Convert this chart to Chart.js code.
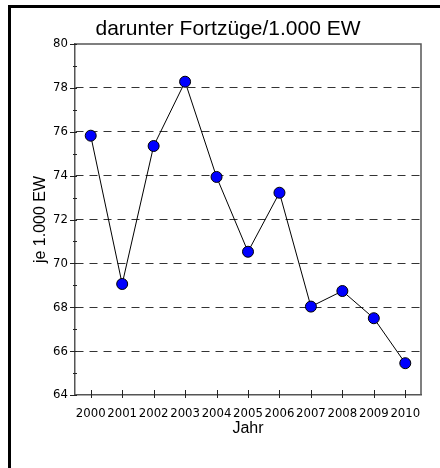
<!DOCTYPE html>
<html>
<head>
<meta charset="utf-8">
<script src="https://cdn.jsdelivr.net/npm/chart.js@4"></script>
<style>
  html, body { margin: 0; padding: 0; background: #fff; }
  canvas { display: block; }
</style>
</head>
<body>
<canvas id="fortzuegeChart" width="440" height="468"></canvas>
<script>
const jahre = ['2000', '2001', '2002', '2003', '2004', '2005', '2006', '2007', '2008', '2009', '2010'];
const fortzuege = [75.82, 69.06, 75.35, 78.28, 73.94, 70.53, 73.22, 68.03, 68.74, 67.5, 65.45];
const yTicks = [64, 66, 68, 70, 72, 74, 76, 78, 80];
const yMinorTicks = [65, 67, 69, 71, 73, 75, 77, 79];

const titel = 'darunter Fortzüge/1.000 EW';
const achsenFarbe = '#555';
const schmal = '"DejaVu Sans Condensed", "Liberation Sans Narrow", "Arial Narrow", sans-serif';

// Rahmen, Titel und Tick-Striche
const rahmenPlugin = {
  id: 'rahmen',
  afterDraw: (chart) => {
    const ctx = chart.ctx;
    const area = chart.chartArea;
    const xScale = chart.scales.x;
    const yScale = chart.scales.y;

    ctx.save();

    // äusserer schwarzer Rand (oben + links)
    ctx.fillStyle = '#000';
    ctx.fillRect(8, 5, 432, 3);
    ctx.fillRect(8, 5, 3, 463);

    // oben + rechts um die Zeichenfläche
    ctx.strokeStyle = achsenFarbe;
    ctx.lineWidth = 1.5;
    ctx.beginPath();
    ctx.moveTo(area.left, area.top);
    ctx.lineTo(area.right, area.top);
    ctx.lineTo(area.right, area.bottom);
    ctx.stroke();

    // Tick-Striche
    ctx.strokeStyle = '#222';
    ctx.lineWidth = 1;
    ctx.beginPath();
    xScale.ticks.forEach((t, i) => {
      const x = Math.round(xScale.getPixelForTick(i)) + 0.5;
      ctx.moveTo(x, area.bottom - 5);
      ctx.lineTo(x, area.bottom + 3);
    });
    yTicks.forEach((v) => {
      const y = Math.round(yScale.getPixelForValue(v)) + 0.5;
      ctx.moveTo(area.left - 5, y);
      ctx.lineTo(area.left + 2, y);
    });
    yMinorTicks.forEach((v) => {
      const y = Math.round(yScale.getPixelForValue(v)) + 0.5;
      ctx.moveTo(area.left - 2, y);
      ctx.lineTo(area.left + 2, y);
    });
    ctx.stroke();

    // Titel
    ctx.fillStyle = '#000';
    ctx.font = '21px "Liberation Sans", Arial, sans-serif';
    ctx.textAlign = 'center';
    ctx.textBaseline = 'alphabetic';
    ctx.fillText(titel, 228, 35);

    ctx.restore();
  }
};

const ctx = document.getElementById('fortzuegeChart').getContext('2d');

const myChart = new Chart(ctx, {
  type: 'line',
  data: {
    labels: jahre,
    datasets: [
      {
        label: titel,
        data: fortzuege,
        borderColor: '#000',
        borderWidth: 1,
        backgroundColor: '#0000ff',
        pointBackgroundColor: '#0000ff',
        pointBorderColor: '#000',
        pointBorderWidth: 1,
        pointRadius: 5.5,
        tension: 0,
        clip: false,
      },
    ],
  },
  options: {
    responsive: false,
    devicePixelRatio: 1,
    animation: false,
    layout: {
      padding: { left: 0, top: 44, right: 19, bottom: 0 },
    },
    plugins: {
      legend: { display: false },
      title: { display: false },
      tooltip: { enabled: false },
    },
    scales: {
      x: {
        type: 'category',
        offset: true,
        grid: { display: false },
        border: { display: true, color: achsenFarbe, width: 1.5 },
        ticks: {
          color: '#000',
          padding: 3,
          maxRotation: 0,
          autoSkip: false,
          font: { family: schmal, size: 13 },
        },
        title: {
          display: true,
          text: 'Jahr',
          color: '#000',
          padding: { top: 0, bottom: 30 },
          font: { family: '"Liberation Sans", Arial, sans-serif', size: 16 },
        },
        afterFit: (scale) => {
          scale.height = 468 - 395;
        },
      },
      y: {
        min: 64,
        max: 80,
        ticks: {
          stepSize: 2,
          color: '#000',
          padding: 7,
          font: { family: schmal, size: 13 },
        },
        grid: {
          drawTicks: false,
          color: (c) => (c.tick && (c.tick.value === 64 || c.tick.value === 80) ? 'rgba(0,0,0,0)' : '#333'),
          lineWidth: 1,
        },
        border: { display: true, color: achsenFarbe, width: 1.5, dash: [8, 6] },
        title: {
          display: true,
          text: 'je 1.000 EW',
          color: '#000',
          padding: { top: 31, bottom: 0 },
          font: { family: '"Liberation Sans", Arial, sans-serif', size: 16 },
        },
        afterFit: (scale) => {
          scale.width = 75;
        },
      },
    },
  },
  plugins: [rahmenPlugin],
});
</script>
</body>
</html>
